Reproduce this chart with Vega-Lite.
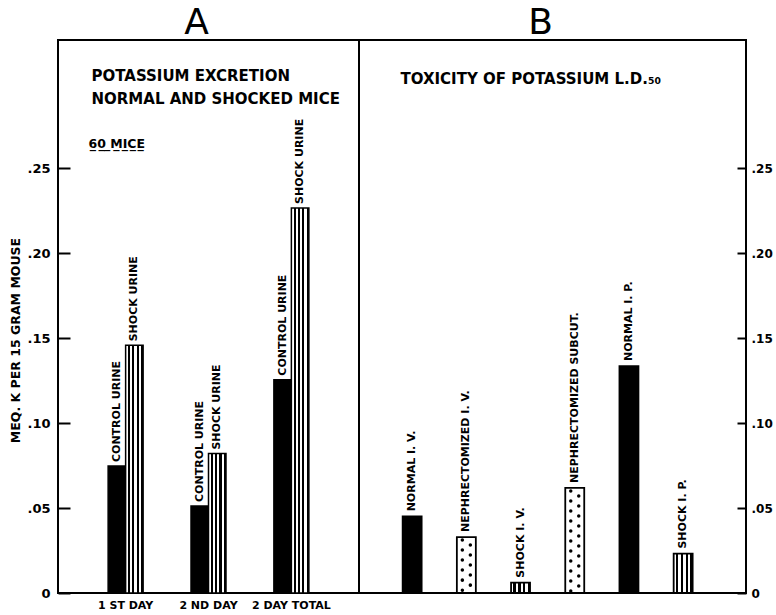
{
  "$schema": "https://vega.github.io/schema/vega-lite/v6.json",
  "background": "white",
  "padding": {"left": 8, "top": 4, "right": 0, "bottom": 0},
  "spacing": 0,
  "bounds": "flush",
  "config": {
    "view": {"stroke": "black", "strokeWidth": 2},
    "font": "DejaVu Sans",
    "axis": {"labelFont": "DejaVu Sans", "labelFontWeight": "bold", "labelColor": "black", "titleFont": "DejaVu Sans", "titleColor": "black", "titleFontWeight": "bold", "grid": false, "domain": false, "ticks": false},
    "title": {"font": "DejaVu Sans", "fontWeight": "normal", "fontSize": 36, "color": "black", "baseline": "alphabetic", "offset": -2, "dx": -12, "frame": "group"}
  },
  "hconcat": [
    {
      "width": 301,
      "height": 553,
      "title": {"text": "A"},
      "data": {"values": [
        {"day": "1 ST DAY", "urine": "Control", "label": "CONTROL URINE", "value": 0.0747},
        {"day": "1 ST DAY", "urine": "Shock", "label": "SHOCK URINE", "value": 0.1457},
        {"day": "2 ND DAY", "urine": "Control", "label": "CONTROL URINE", "value": 0.0512},
        {"day": "2 ND DAY", "urine": "Shock", "label": "SHOCK URINE", "value": 0.082},
        {"day": "2 DAY TOTAL", "urine": "Control", "label": "CONTROL URINE", "value": 0.1255},
        {"day": "2 DAY TOTAL", "urine": "Shock", "label": "SHOCK URINE", "value": 0.2265}
      ]},
      "encoding": {
        "xOffset": {"field": "urine", "type": "nominal", "sort": null, "scale": {"paddingInner": 0, "paddingOuter": 0}},
        "y": {"field": "value", "type": "quantitative", "scale": {"domain": [0, 0.3253], "nice": false},
          "axis": {"orient": "left", "values": [0, 0.05, 0.1, 0.15, 0.2, 0.25], "labelExpr": "datum.value === 0 ? '0' : replace(format(datum.value, '.2f'), '0.', '.')", "ticks": true, "tickSize": -12, "tickWidth": 2, "tickColor": "black", "labelPadding": 20, "labelFontSize": 13, "title": "MEQ. K PER 15 GRAM MOUSE", "titleFontSize": 12.5, "titleX": -43, "titleY": 300, "titleAngle": 270, "titleAlign": "center", "titleBaseline": "middle"}}
      },
      "layer": [
        {
          "mark": {"type": "bar", "stroke": "black", "strokeWidth": 1.5},
          "encoding": {
            "x": {"field": "day", "type": "nominal", "sort": null, "scale": {"paddingInner": 0.578, "paddingOuter": 0.605},
              "axis": {"orient": "bottom", "labelAngle": 0, "labelPadding": 6, "labelFontSize": 11, "labelBaseline": "top", "title": "6̲0̲ ̲M̲I̲C̲E̲", "titleFontSize": 12.5, "titleX": 30, "titleY": -446, "titleAlign": "left", "titleBaseline": "alphabetic", "titleAngle": 0}},
            "fill": {"condition": {"test": "datum.urine === 'Shock'", "value": {"gradient": "linear", "x1": 0, "y1": 0, "x2": 1, "y2": 0, "stops": [
              {"offset": 0, "color": "white"}, {"offset": 0.125, "color": "white"}, {"offset": 0.125, "color": "black"}, {"offset": 0.25, "color": "black"},
              {"offset": 0.25, "color": "white"}, {"offset": 0.375, "color": "white"}, {"offset": 0.375, "color": "black"}, {"offset": 0.5, "color": "black"},
              {"offset": 0.5, "color": "white"}, {"offset": 0.625, "color": "white"}, {"offset": 0.625, "color": "black"}, {"offset": 0.75, "color": "black"},
              {"offset": 0.75, "color": "white"}, {"offset": 0.875, "color": "white"}, {"offset": 0.875, "color": "black"}, {"offset": 1, "color": "black"}
            ]}}, "value": "black"}
          }
        },
        {
          "mark": {"type": "text", "angle": 270, "align": "left", "baseline": "middle", "dx": 4, "fontSize": 11, "fontWeight": "bold", "font": "DejaVu Sans", "color": "black"},
          "encoding": {
            "x": {"field": "day", "type": "nominal", "sort": null,
              "axis": {"orient": "top", "labels": false, "title": ["POTASSIUM EXCRETION", "NORMAL AND SHOCKED MICE"], "titleFontSize": 15, "titleLineHeight": 23, "titleX": 33, "titleY": 28, "titleAlign": "left", "titleBaseline": "top", "titleAngle": 0, "minExtent": 0, "maxExtent": 0}},
            "text": {"field": "label"}
          }
        }
      ],
      "resolve": {"axis": {"x": "independent"}}
    },
    {
      "width": 387,
      "height": 553,
      "title": {"text": "B"},
      "data": {"values": [
        {"test": "NORMAL I. V.", "group": "Normal", "value": 0.0451},
        {"test": "NEPHRECTOMIZED I. V.", "group": "Nephrectomized", "value": 0.0329},
        {"test": "SHOCK I. V.", "group": "Shock", "value": 0.0061},
        {"test": "NEPHRECTOMIZED SUBCUT.", "group": "Nephrectomized", "value": 0.0618},
        {"test": "NORMAL I. P.", "group": "Normal", "value": 0.1335},
        {"test": "SHOCK I. P.", "group": "Shock", "value": 0.0232}
      ]},
      "encoding": {
        "x": {"field": "test", "type": "nominal", "sort": null, "scale": {"paddingInner": 0.65, "paddingOuter": 0.895, "align": 0.45},
          "axis": {"orient": "bottom", "labels": false, "title": "TOXICITY OF POTASSIUM L.D.₅₀", "titleFontSize": 15, "titleX": 41, "titleY": -509.5, "titleAlign": "left", "titleBaseline": "alphabetic", "titleAngle": 0}},
        "y": {"field": "value", "type": "quantitative", "scale": {"domain": [0, 0.3253], "nice": false},
          "axis": {"orient": "right", "values": [0, 0.05, 0.1, 0.15, 0.2, 0.25], "labelExpr": "datum.value === 0 ? '0' : replace(format(datum.value, '.2f'), '0.', '.')", "ticks": true, "tickSize": -9, "tickWidth": 2, "tickColor": "black", "labelPadding": 14, "labelFontSize": 12, "labelAlign": "left", "title": null}}
      },
      "layer": [
        {
          "mark": {"type": "bar", "stroke": "black", "strokeWidth": 1.8},
          "encoding": {
            "fill": {"condition": [
              {"test": "datum.group === 'Shock'", "value": {"gradient": "linear", "x1": 0, "y1": 0, "x2": 1, "y2": 0, "stops": [
                {"offset": 0, "color": "white"}, {"offset": 0.125, "color": "white"}, {"offset": 0.125, "color": "black"}, {"offset": 0.25, "color": "black"},
                {"offset": 0.25, "color": "white"}, {"offset": 0.375, "color": "white"}, {"offset": 0.375, "color": "black"}, {"offset": 0.5, "color": "black"},
                {"offset": 0.5, "color": "white"}, {"offset": 0.625, "color": "white"}, {"offset": 0.625, "color": "black"}, {"offset": 0.75, "color": "black"},
                {"offset": 0.75, "color": "white"}, {"offset": 0.875, "color": "white"}, {"offset": 0.875, "color": "black"}, {"offset": 1, "color": "black"}
              ]}},
              {"test": "datum.group === 'Nephrectomized'", "value": "white"}
            ], "value": "black"}
          }
        },
        {
          "transform": [{"filter": "datum.group === 'Nephrectomized'"}],
          "mark": {"type": "rule", "color": "black", "strokeWidth": 3.5, "strokeCap": "round", "strokeDash": [0.01, 10], "strokeDashOffset": 7, "xOffset": -4},
          "encoding": {"y2": {"datum": 0}}
        },
        {
          "transform": [{"filter": "datum.group === 'Nephrectomized'"}],
          "mark": {"type": "rule", "color": "black", "strokeWidth": 3.5, "strokeCap": "round", "strokeDash": [0.01, 10], "strokeDashOffset": 2, "xOffset": 4},
          "encoding": {"y2": {"datum": 0}}
        },
        {
          "mark": {"type": "text", "angle": 270, "align": "left", "baseline": "middle", "dx": 5, "fontSize": 11, "fontWeight": "bold", "font": "DejaVu Sans", "color": "black"},
          "encoding": {"text": {"field": "test"}}
        }
      ]
    }
  ]
}
